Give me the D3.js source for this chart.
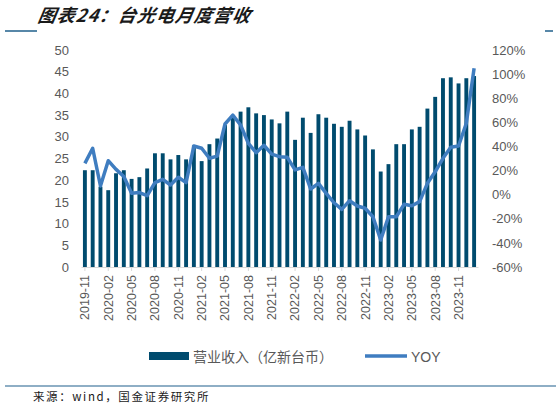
<!DOCTYPE html>
<html><head><meta charset="utf-8">
<script src="https://cdn.jsdelivr.net/npm/d3@7"></script>
<style>body{margin:0;background:#fff}</style>
</head><body><div id="chart"></div>
<script>
var revenue = [22.3,22.3,18.5,17.7,21.6,22.3,20.3,20.7,22.7,26.2,26.2,24.8,25.8,24.8,28,24.4,28.3,29.6,32.7,34.6,35.8,36.8,35.4,35,34,33.1,35.8,29.3,34.4,30.9,35.2,34.4,33,32.3,33.7,31.7,30.3,27.1,22,23.7,28.3,28.3,31.7,32.3,36.5,39.2,43.5,43.7,42.3,43.5,44];
var yoy = [26,38.5,7.2,28.2,21,15,1.1,1.7,-0.8,10,12.7,8,14.4,10,40.4,38.5,30.2,32,58.6,66,57.8,42.6,34.8,41,33.7,31.5,31,20.5,22.7,4.7,9.4,1.1,-6.7,-12.2,-5,-9.4,-11.3,-18.3,-37.6,-18.3,-18.3,-8,-9.2,-5.8,9.4,19,30.2,39.3,40.4,59.2,104.8];
var months = [];
for (var i = 0; i < revenue.length; i++) {
  var m = 10 + i, y = 2019 + Math.floor(m / 12), mm = m % 12 + 1;
  months.push(y + '-' + (mm < 10 ? '0' + mm : mm));
}
var leftTicks = [0,5,10,15,20,25,30,35,40,45,50];
var rightTicks = [-60,-40,-20,0,20,40,60,80,100,120];

var font = 'Arial, "Liberation Sans", "Noto Sans CJK SC", sans-serif';
var svg = d3.select('#chart').append('svg').attr('width', 560).attr('height', 410);

var x = d3.scaleBand().domain(months).range([81, 478]).paddingInner(0.5).paddingOuter(0.25);
var yL = d3.scaleLinear().domain([0, 50]).range([267, 50]);
var yR = d3.scaleLinear().domain([-60, 120]).range([267, 50]);

// title
svg.append('text').attr('x', 36).attr('y', 22).text('图表24：台光电月度营收')
  .attr('font-family', '"Noto Sans CJK SC", sans-serif').attr('font-size', 18)
  .attr('font-weight', 'bold').attr('font-style', 'italic').attr('fill', '#1a1a1a')
  .attr('letter-spacing', 1)
  .attr('transform', 'skewX(-10) translate(5,0)');
svg.append('line').attr('x1', 5).attr('x2', 37).attr('y1', 31).attr('y2', 31).attr('stroke', '#1f5f8b').attr('stroke-width', 1.5);
svg.append('line').attr('x1', 545).attr('x2', 553).attr('y1', 31).attr('y2', 31).attr('stroke', '#1f5f8b').attr('stroke-width', 1.5);

// bars
svg.selectAll('rect.bar').data(revenue).enter().append('rect').attr('class', 'bar')
  .attr('x', function(d, i) { return x(months[i]); })
  .attr('width', x.bandwidth())
  .attr('y', function(d) { return yL(d); })
  .attr('height', function(d) { return yL(0) - yL(d); })
  .attr('fill', '#004b6e');

// x axis
var xAxis = svg.append('g').attr('transform', 'translate(0,267)')
  .call(d3.axisBottom(x).tickValues(months.filter(function(d, i) { return i % 3 == 0; })).tickSize(4).tickSizeOuter(0));
xAxis.select('.domain').attr('stroke', '#d9d9d9');
xAxis.selectAll('.tick line').attr('stroke', '#d9d9d9');
xAxis.selectAll('text').attr('transform', 'rotate(-90)').attr('text-anchor', 'end')
  .attr('x', -8).attr('y', 0).attr('dy', '0.35em')
  .attr('font-family', font).attr('font-size', 12.5).attr('fill', '#595959');

var axL = svg.append('g').attr('transform', 'translate(72,0)')
  .call(d3.axisLeft(yL).tickValues(leftTicks).tickSize(0));
axL.select('.domain').remove();
axL.selectAll('text').attr('font-family', font).attr('font-size', 13).attr('fill', '#595959');

var axR = svg.append('g').attr('transform', 'translate(489,0)')
  .call(d3.axisRight(yR).tickValues(rightTicks).tickSize(0).tickFormat(function(d) { return d + '%'; }));
axR.select('.domain').remove();
axR.selectAll('text').attr('font-family', font).attr('font-size', 13).attr('fill', '#595959');

// yoy line
var line = d3.line().x(function(d, i) { return x(months[i]) + x.bandwidth() / 2; }).y(function(d) { return yR(d); });
svg.append('path').datum(yoy).attr('d', line).attr('fill', 'none')
  .attr('stroke', '#3f7dc0').attr('stroke-width', 3.5).attr('stroke-linejoin', 'round');

// legend
svg.append('rect').attr('x', 149).attr('y', 352).attr('width', 40).attr('height', 8).attr('fill', '#004b6e');
svg.append('text').attr('x', 193).attr('y', 362).text('营业收入（亿新台币）')
  .attr('font-family', font).attr('font-size', 14).attr('fill', '#595959');
svg.append('line').attr('x1', 365).attr('x2', 407).attr('y1', 356).attr('y2', 356).attr('stroke', '#3f7dc0').attr('stroke-width', 3.5);
svg.append('text').attr('x', 411).attr('y', 362).text('YOY')
  .attr('font-family', font).attr('font-size', 14).attr('fill', '#595959');

// footer
svg.append('line').attr('x1', 5).attr('x2', 556).attr('y1', 386).attr('y2', 386).attr('stroke', '#1f5f8b').attr('stroke-width', 1.2);
svg.append('text').attr('x', 33).attr('y', 401).text('来源：wind，国金证券研究所')
  .attr('font-family', '"Noto Sans CJK SC", monospace').attr('font-size', 11.5).attr('fill', '#1a1a1a')
  .attr('letter-spacing', 1.6);
</script>
</body></html>
